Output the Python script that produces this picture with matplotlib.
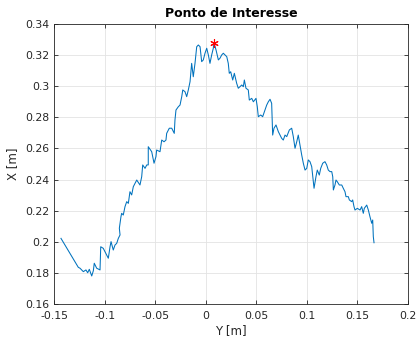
import matplotlib
matplotlib.use("Agg")
import matplotlib.pyplot as plt
from matplotlib.ticker import FuncFormatter

# Trajectory data (Y [m] horizontal, X [m] vertical)
y_pos = [-0.1431, -0.1260, -0.1243, -0.1210, -0.1184, -0.1167, -0.1151, -0.1127, -0.1111, -0.1102,
         -0.1078, -0.1045, -0.1038, -0.1013, -0.0996, -0.0963, -0.0946, -0.0936, -0.0914, -0.0897,
         -0.0880, -0.0864, -0.0847, -0.0854, -0.0838, -0.0831, -0.0815, -0.0798, -0.0781, -0.0765,
         -0.0749, -0.0732, -0.0716, -0.0699, -0.0682, -0.0650, -0.0633, -0.0623, -0.0600, -0.0583,
         -0.0568, -0.0568, -0.0534, -0.0511, -0.0492, -0.0485, -0.0452, -0.0435, -0.0412, -0.0393,
         -0.0386, -0.0360, -0.0336, -0.0311, -0.0304, -0.0294, -0.0271, -0.0254, -0.0237, -0.0227,
         -0.0205, -0.0188, -0.0172, -0.0155, -0.0139, -0.0123, -0.0106, -0.0089, -0.0073, -0.0056,
         -0.0040, -0.0024, -0.0007, 0.0010, 0.0026, 0.0042, 0.0059, 0.0075, 0.0082, 0.0102,
         0.0125, 0.0141, 0.0158, 0.0174, 0.0191, 0.0208, 0.0223, 0.0233, 0.0247, 0.0267,
         0.0283, 0.0306, 0.0322, 0.0339, 0.0356, 0.0372, 0.0382, 0.0398, 0.0421, 0.0431,
         0.0455, 0.0471, 0.0497, 0.0510, 0.0520, 0.0544, 0.0563, 0.0586, 0.0603, 0.0619,
         0.0636, 0.0652, 0.0662, 0.0675, 0.0695, 0.0718, 0.0735, 0.0751, 0.0767, 0.0784,
         0.0801, 0.0827, 0.0850, 0.0866, 0.0883, 0.0900, 0.0915, 0.0949, 0.0965, 0.0982,
         0.0999, 0.1014, 0.1031, 0.1048, 0.1071, 0.1090, 0.1103, 0.1123, 0.1137, 0.1157,
         0.1179, 0.1196, 0.1212, 0.1229, 0.1246, 0.1256, 0.1262, 0.1278, 0.1288, 0.1301,
         0.1321, 0.1345, 0.1360, 0.1377, 0.1387, 0.1410, 0.1420, 0.1443, 0.1453, 0.1466,
         0.1476, 0.1499, 0.1526, 0.1542, 0.1558, 0.1568, 0.1592, 0.1608, 0.1624, 0.1641,
         0.1651, 0.1657, 0.1664]
x_pos = [0.2022, 0.1836, 0.1830, 0.1808, 0.1819, 0.1801, 0.1823, 0.1780, 0.1814, 0.1862,
         0.1830, 0.1819, 0.1968, 0.1958, 0.1936, 0.1894, 0.1968, 0.2001, 0.1947, 0.1979,
         0.1990, 0.2022, 0.2044, 0.2087, 0.2161, 0.2183, 0.2172, 0.2226, 0.2258, 0.2247,
         0.2322, 0.2301, 0.2354, 0.2376, 0.2397, 0.2365, 0.2418, 0.2494, 0.2472, 0.2494,
         0.2494, 0.2611, 0.2579, 0.2505, 0.2547, 0.2590, 0.2579, 0.2654, 0.2643, 0.2654,
         0.2697, 0.2730, 0.2730, 0.2697, 0.2783, 0.2847, 0.2868, 0.2879, 0.2933, 0.2976,
         0.2965, 0.2933, 0.2976, 0.3029, 0.3147, 0.3061, 0.3147, 0.3254, 0.3265, 0.3254,
         0.3158, 0.3169, 0.3212, 0.3244, 0.3201, 0.3147, 0.3201, 0.3244, 0.3280, 0.3233,
         0.3169, 0.3180, 0.3201, 0.3212, 0.3201, 0.3190, 0.3147, 0.3083, 0.3093, 0.3040,
         0.3083, 0.3019, 0.2987, 0.2997, 0.3008, 0.2997, 0.3040, 0.2987, 0.2976, 0.2911,
         0.2922, 0.2900, 0.2922, 0.2868, 0.2804, 0.2815, 0.2804, 0.2847, 0.2879, 0.2900,
         0.2916, 0.2890, 0.2686, 0.2730, 0.2751, 0.2708, 0.2686, 0.2665, 0.2654, 0.2686,
         0.2676, 0.2719, 0.2730, 0.2676, 0.2601, 0.2643, 0.2686, 0.2558, 0.2505, 0.2461,
         0.2472, 0.2526, 0.2515, 0.2483, 0.2344, 0.2418, 0.2461, 0.2429, 0.2472, 0.2505,
         0.2515, 0.2494, 0.2461, 0.2451, 0.2451, 0.2418, 0.2333, 0.2365, 0.2397, 0.2386,
         0.2365, 0.2365, 0.2344, 0.2322, 0.2290, 0.2290, 0.2269, 0.2258, 0.2269, 0.2226,
         0.2204, 0.2215, 0.2204, 0.2226, 0.2183, 0.2215, 0.2236, 0.2204, 0.2161, 0.2119,
         0.2140, 0.2033, 0.1994]

# Point of interest
poi_y = [0.0082]
poi_x = [0.3280]

x_ticks = [-0.15, -0.1, -0.05, 0, 0.05, 0.1, 0.15, 0.2]
y_ticks = [0.16, 0.18, 0.2, 0.22, 0.24, 0.26, 0.28, 0.3, 0.32, 0.34]

axis_col = "#262626"
plt.rcParams['font.family'] = ['DejaVu Sans']

fig = plt.figure(figsize=(4.16, 3.37), dpi=100)
ax = fig.add_axes([54 / 416, 33 / 337, 354 / 416, 280 / 337])

ax.plot(y_pos, x_pos, color="#0072BD", linewidth=0.75)
ax.plot(poi_y, poi_x, marker=(6, 2, 0), color="red", markersize=6, linestyle="none",
        markeredgewidth=0.8)

ax.set_xlim(-0.15, 0.2)
ax.set_ylim(0.16, 0.34)
ax.set_xticks(x_ticks)
ax.set_yticks(y_ticks)
fmt = FuncFormatter(lambda v, p: "%g" % round(v, 4))
ax.xaxis.set_major_formatter(fmt)
ax.yaxis.set_major_formatter(fmt)

ax.grid(True, color="#e3e3e3", linewidth=0.6)
ax.set_axisbelow(True)
ax.tick_params(direction="in", length=3, width=0.6, colors=axis_col, labelsize=7.8,
               top=True, right=True)
ax.tick_params(axis="x", pad=5)
ax.tick_params(axis="y", pad=3)
for s in ax.spines.values():
    s.set_color(axis_col)
    s.set_linewidth(0.6)

ax.set_title("Ponto de Interesse", fontsize=9, fontweight="bold", color="black", pad=5)
ax.set_xlabel("Y [m]", fontsize=8.5, color=axis_col, labelpad=2)
ax.set_ylabel("X [m]", fontsize=8.5, color=axis_col, labelpad=5)

fig.savefig("out.png", dpi=100)
